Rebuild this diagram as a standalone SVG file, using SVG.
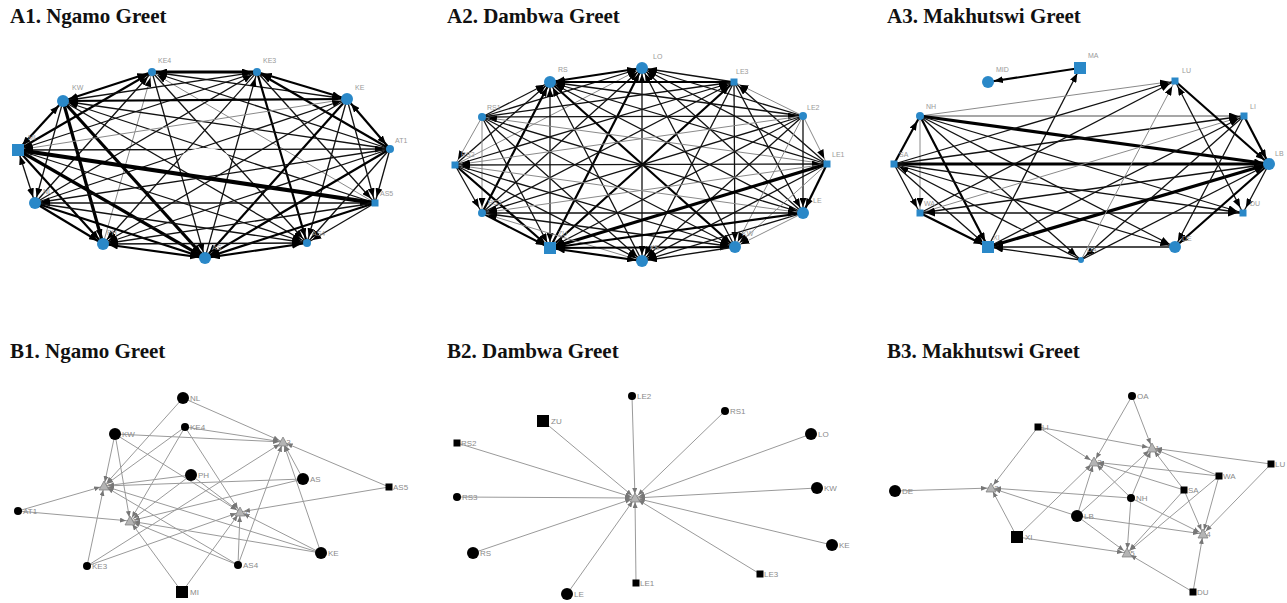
<svg xmlns="http://www.w3.org/2000/svg" width="1287" height="603" viewBox="0 0 1287 603">
<style>
.e1{stroke:#111;stroke-width:1.3}
.e2{stroke:#000;stroke-width:2.2}
.e3{stroke:#000;stroke-width:3.2}
.e4{stroke:#000;stroke-width:4.2}
.eg{stroke:#8a8a8a;stroke-width:1}
.A line{marker-end:url(#ah);fill:none}
.A line.b{marker-start:url(#ahs)}
.B line{stroke:#9a9a9a;stroke-width:1;marker-end:url(#bh)}
.nb{fill:#2a88c8}
.nk{fill:#000}
.tri{fill:#b4b4b4;stroke:#7a7a7a;stroke-width:.7}
.la{font-family:"Liberation Sans",Arial,sans-serif;font-size:7px;fill:#9a9a9a}
.lb{font-family:"Liberation Sans",Arial,sans-serif;font-size:8px;fill:#8a8a8a}
.t{font-family:"Liberation Serif","Times New Roman",serif;font-weight:bold;font-size:21px;fill:#111}
</style>
<defs>
<marker id="ah" markerUnits="userSpaceOnUse" markerWidth="9" markerHeight="7" viewBox="0 0 9 7" refX="15" refY="3.5" orient="auto"><path d="M0,0L9,3.5L0,7z" fill="#000"/></marker>
<marker id="ahs" markerUnits="userSpaceOnUse" markerWidth="9" markerHeight="7" viewBox="0 0 9 7" refX="15" refY="3.5" orient="auto-start-reverse"><path d="M0,0L9,3.5L0,7z" fill="#000"/></marker>
<marker id="bh" markerUnits="userSpaceOnUse" markerWidth="6" markerHeight="5" viewBox="0 0 6 5" refX="10" refY="2.5" orient="auto"><path d="M0,0L6,2.5L0,5z" fill="#777"/></marker>
<polygon id="tri" points="0,-5 5,4 -5,4"/>
</defs>
<rect width="1287" height="603" fill="#fff"/>

<g id="titles">
<text class="t" x="10" y="23">A1. Ngamo Greet</text>
<text class="t" x="447" y="23">A2. Dambwa Greet</text>
<text class="t" x="887" y="23">A3. Makhutswi Greet</text>
<text class="t" x="10" y="358">B1. Ngamo Greet</text>
<text class="t" x="447" y="358">B2. Dambwa Greet</text>
<text class="t" x="887" y="358">B3. Makhutswi Greet</text>
</g>

<!-- A1 connectors -->
<g id="a1-edges" class="A">
<line class="e3 b" x1="152" y1="72" x2="257" y2="72"/>
<line class="e2 b" x1="63" y1="101" x2="152" y2="72"/>
<line class="e1" x1="347" y1="99" x2="152" y2="72"/>
<line class="e2" x1="18" y1="150" x2="152" y2="72"/>
<line class="e1" x1="390" y1="149" x2="152" y2="72"/>
<line class="e1" x1="35" y1="203" x2="152" y2="72"/>
<line class="eg" x1="375" y1="203" x2="152" y2="72"/>
<line class="eg" x1="103" y1="244" x2="152" y2="72"/>
<line class="e1" x1="152" y1="72" x2="307" y2="243"/>
<line class="e1" x1="152" y1="72" x2="205" y2="258"/>
<line class="e1" x1="63" y1="101" x2="257" y2="72"/>
<line class="e2 b" x1="347" y1="99" x2="257" y2="72"/>
<line class="e1" x1="257" y1="72" x2="18" y2="150"/>
<line class="e2" x1="390" y1="149" x2="257" y2="72"/>
<line class="e1" x1="35" y1="203" x2="257" y2="72"/>
<line class="e1" x1="257" y1="72" x2="375" y2="203"/>
<line class="e1" x1="257" y1="72" x2="103" y2="244"/>
<line class="e2" x1="257" y1="72" x2="307" y2="243"/>
<line class="e1" x1="205" y1="258" x2="257" y2="72"/>
<line class="e2 b" x1="63" y1="101" x2="347" y2="99"/>
<line class="e2 b" x1="63" y1="101" x2="18" y2="150"/>
<line class="e1" x1="390" y1="149" x2="63" y2="101"/>
<line class="e1" x1="63" y1="101" x2="35" y2="203"/>
<line class="e1" x1="375" y1="203" x2="63" y2="101"/>
<line class="e3" x1="63" y1="101" x2="103" y2="244"/>
<line class="e1" x1="63" y1="101" x2="307" y2="243"/>
<line class="e3" x1="63" y1="101" x2="205" y2="258"/>
<line class="eg" x1="347" y1="99" x2="18" y2="150"/>
<line class="e2 b" x1="347" y1="99" x2="390" y2="149"/>
<line class="e1" x1="35" y1="203" x2="347" y2="99"/>
<line class="e1" x1="347" y1="99" x2="375" y2="203"/>
<line class="e1" x1="347" y1="99" x2="103" y2="244"/>
<line class="e1" x1="347" y1="99" x2="307" y2="243"/>
<line class="e2" x1="347" y1="99" x2="205" y2="258"/>
<line class="e1 b" x1="390" y1="149" x2="18" y2="150"/>
<line class="e1 b" x1="18" y1="150" x2="35" y2="203"/>
<line class="e4" x1="375" y1="203" x2="18" y2="150"/>
<line class="e2" x1="18" y1="150" x2="103" y2="244"/>
<line class="e1" x1="18" y1="150" x2="307" y2="243"/>
<line class="e3" x1="18" y1="150" x2="205" y2="258"/>
<line class="e1" x1="390" y1="149" x2="35" y2="203"/>
<line class="e1" x1="390" y1="149" x2="375" y2="203"/>
<line class="e1" x1="390" y1="149" x2="103" y2="244"/>
<line class="e1" x1="390" y1="149" x2="307" y2="243"/>
<line class="e2" x1="390" y1="149" x2="205" y2="258"/>
<line class="e1 b" x1="35" y1="203" x2="375" y2="203"/>
<line class="e2" x1="35" y1="203" x2="103" y2="244"/>
<line class="e1" x1="35" y1="203" x2="307" y2="243"/>
<line class="e2" x1="35" y1="203" x2="205" y2="258"/>
<line class="e1" x1="375" y1="203" x2="103" y2="244"/>
<line class="e1" x1="375" y1="203" x2="307" y2="243"/>
<line class="e2" x1="375" y1="203" x2="205" y2="258"/>
<line class="e1 b" x1="103" y1="244" x2="307" y2="243"/>
<line class="e2 b" x1="103" y1="244" x2="205" y2="258"/>
<line class="e2 b" x1="307" y1="243" x2="205" y2="258"/>
</g>
<ellipse id="a1-hole" cx="205" cy="160" rx="25" ry="12" fill="#fff"/>

<g id="a1-nodes">
<g id="a1-KE4"><circle class="nb" cx="152" cy="72" r="4"/><text class="la" x="158" y="63">KE4</text></g>
<g id="a1-KE3"><circle class="nb" cx="257" cy="72" r="4"/><text class="la" x="263" y="63">KE3</text></g>
<g id="a1-KW"><circle class="nb" cx="63" cy="101" r="6"/><text class="la" x="72" y="90">KW</text></g>
<g id="a1-KE"><circle class="nb" cx="347" cy="99" r="6"/><text class="la" x="355" y="90">KE</text></g>
<g id="a1-MI"><rect class="nb" x="12" y="144" width="12" height="12"/><text class="la" x="28" y="140">MI</text></g>
<g id="a1-AT1"><circle class="nb" cx="390" cy="149" r="4"/><text class="la" x="395" y="143">AT1</text></g>
<g id="a1-NL"><circle class="nb" cx="35" cy="203" r="6"/><text class="la" x="43" y="194">NL</text></g>
<g id="a1-AS5"><rect class="nb" x="371.5" y="199.5" width="7" height="7"/><text class="la" x="380" y="196">AS5</text></g>
<g id="a1-PH"><circle class="nb" cx="103" cy="244" r="6"/><text class="la" x="107" y="235">PH</text></g>
<g id="a1-AS4"><circle class="nb" cx="307" cy="243" r="4"/><text class="la" x="312" y="236">AS4</text></g>
<g id="a1-AS"><circle class="nb" cx="205" cy="258" r="6"/><text class="la" x="212" y="250">AS</text></g>
</g>

<!-- A2 connectors -->
<g id="a2-edges" class="A">
<line class="e2 b" x1="550" y1="82" x2="642" y2="68"/>
<line class="e1" x1="734" y1="82" x2="642" y2="68"/>
<line class="e1" x1="482" y1="117" x2="642" y2="68"/>
<line class="e1" x1="803" y1="116" x2="642" y2="68"/>
<line class="eg" x1="455" y1="165" x2="642" y2="68"/>
<line class="e1" x1="827" y1="164" x2="642" y2="68"/>
<line class="e1" x1="482" y1="213" x2="642" y2="68"/>
<line class="e1" x1="803" y1="213" x2="642" y2="68"/>
<line class="e2" x1="550" y1="248" x2="642" y2="68"/>
<line class="e1" x1="735" y1="247" x2="642" y2="68"/>
<line class="e1 b" x1="642" y1="261" x2="642" y2="68"/>
<line class="e2" x1="734" y1="82" x2="550" y2="82"/>
<line class="e1" x1="482" y1="117" x2="550" y2="82"/>
<line class="e1" x1="803" y1="116" x2="550" y2="82"/>
<line class="e1" x1="455" y1="165" x2="550" y2="82"/>
<line class="e1" x1="827" y1="164" x2="550" y2="82"/>
<line class="e2" x1="482" y1="213" x2="550" y2="82"/>
<line class="e1" x1="803" y1="213" x2="550" y2="82"/>
<line class="e1 b" x1="550" y1="248" x2="550" y2="82"/>
<line class="e2" x1="550" y1="82" x2="735" y2="247"/>
<line class="e1" x1="642" y1="261" x2="550" y2="82"/>
<line class="e1" x1="482" y1="117" x2="734" y2="82"/>
<line class="eg" x1="803" y1="116" x2="734" y2="82"/>
<line class="e1" x1="455" y1="165" x2="734" y2="82"/>
<line class="e1" x1="827" y1="164" x2="734" y2="82"/>
<line class="e1" x1="482" y1="213" x2="734" y2="82"/>
<line class="e1" x1="734" y1="82" x2="803" y2="213"/>
<line class="e2" x1="550" y1="248" x2="734" y2="82"/>
<line class="e1" x1="734" y1="82" x2="735" y2="247"/>
<line class="e1" x1="734" y1="82" x2="642" y2="261"/>
<line class="e1" x1="482" y1="117" x2="803" y2="116"/>
<line class="eg" x1="482" y1="117" x2="455" y2="165"/>
<line class="eg" x1="827" y1="164" x2="482" y2="117"/>
<line class="eg" x1="482" y1="117" x2="482" y2="213"/>
<line class="e1" x1="482" y1="117" x2="803" y2="213"/>
<line class="e1" x1="482" y1="117" x2="550" y2="248"/>
<line class="e1" x1="482" y1="117" x2="735" y2="247"/>
<line class="e1" x1="482" y1="117" x2="642" y2="261"/>
<line class="eg" x1="803" y1="116" x2="455" y2="165"/>
<line class="eg" x1="803" y1="116" x2="827" y2="164"/>
<line class="e1" x1="803" y1="116" x2="482" y2="213"/>
<line class="e1" x1="803" y1="116" x2="803" y2="213"/>
<line class="e1" x1="803" y1="116" x2="550" y2="248"/>
<line class="eg" x1="803" y1="116" x2="735" y2="247"/>
<line class="e1" x1="803" y1="116" x2="642" y2="261"/>
<line class="e1 b" x1="455" y1="165" x2="827" y2="164"/>
<line class="e1" x1="455" y1="165" x2="482" y2="213"/>
<line class="eg" x1="803" y1="213" x2="455" y2="165"/>
<line class="e2" x1="455" y1="165" x2="550" y2="248"/>
<line class="e1" x1="455" y1="165" x2="735" y2="247"/>
<line class="e1" x1="455" y1="165" x2="642" y2="261"/>
<line class="eg" x1="827" y1="164" x2="482" y2="213"/>
<line class="e2" x1="827" y1="164" x2="803" y2="213"/>
<line class="e3" x1="827" y1="164" x2="550" y2="248"/>
<line class="eg" x1="827" y1="164" x2="735" y2="247"/>
<line class="e1" x1="827" y1="164" x2="642" y2="261"/>
<line class="e1 b" x1="482" y1="213" x2="803" y2="213"/>
<line class="e2" x1="482" y1="213" x2="550" y2="248"/>
<line class="e1" x1="482" y1="213" x2="735" y2="247"/>
<line class="eg" x1="642" y1="261" x2="482" y2="213"/>
<line class="e2" x1="803" y1="213" x2="550" y2="248"/>
<line class="eg" x1="803" y1="213" x2="735" y2="247"/>
<line class="e1" x1="803" y1="213" x2="642" y2="261"/>
<line class="e2 b" x1="735" y1="247" x2="550" y2="248"/>
<line class="e2 b" x1="550" y1="248" x2="642" y2="261"/>
<line class="e1" x1="735" y1="247" x2="642" y2="261"/>
</g>

<g id="a2-nodes">
<g id="a2-LO"><circle class="nb" cx="642" cy="68" r="6"/><text class="la" x="653" y="59">LO</text></g>
<g id="a2-RS"><circle class="nb" cx="550" cy="82" r="6"/><text class="la" x="558" y="72">RS</text></g>
<g id="a2-LE3"><rect class="nb" x="730.5" y="78.5" width="7" height="7"/><text class="la" x="736" y="74">LE3</text></g>
<g id="a2-RS1"><circle class="nb" cx="482" cy="117" r="4"/><text class="la" x="487" y="110">RS1</text></g>
<g id="a2-LE2"><circle class="nb" cx="803" cy="116" r="4"/><text class="la" x="807" y="110">LE2</text></g>
<g id="a2-RS2"><rect class="nb" x="451.5" y="161.5" width="7" height="7"/><text class="la" x="461" y="157">RS2</text></g>
<g id="a2-LE1"><rect class="nb" x="823.5" y="160.5" width="7" height="7"/><text class="la" x="832" y="157">LE1</text></g>
<g id="a2-RS3"><circle class="nb" cx="482" cy="213" r="4"/><text class="la" x="488" y="205">RS3</text></g>
<g id="a2-LE"><circle class="nb" cx="803" cy="213" r="6"/><text class="la" x="813" y="203">LE</text></g>
<g id="a2-ZU"><rect class="nb" x="544" y="242" width="12" height="12"/><text class="la" x="558" y="236">ZU</text></g>
<g id="a2-KW"><circle class="nb" cx="735" cy="247" r="6"/><text class="la" x="742" y="236">KW</text></g>
<g id="a2-KE"><circle class="nb" cx="642" cy="261" r="6"/><text class="la" x="650" y="250">KE</text></g>
</g>

<!-- A3 connectors -->
<g id="a3-edges" class="A">
<line class="e2" x1="1080" y1="68" x2="988" y2="82"/>
<line class="e1" x1="988" y1="247" x2="1080" y2="68"/>
<line class="eg" x1="920" y1="116" x2="1175" y2="81"/>
<line class="eg" x1="920" y1="116" x2="1244" y2="116" style="stroke-width:1.6"/>
<line class="e3" x1="920" y1="116" x2="1269" y2="164"/>
<line class="e1" x1="920" y1="116" x2="1243" y2="213"/>
<line class="e1" x1="920" y1="116" x2="1175" y2="247"/>
<line class="e2" x1="920" y1="116" x2="988" y2="247"/>
<line class="eg" x1="920" y1="116" x2="920" y2="213"/>
<line class="e1" x1="920" y1="116" x2="1081" y2="260"/>
<line class="e2" x1="894" y1="164" x2="920" y2="116"/>
<line class="e3" x1="894" y1="164" x2="1269" y2="164"/>
<line class="e1" x1="894" y1="164" x2="1175" y2="81"/>
<line class="e1" x1="894" y1="164" x2="1244" y2="116"/>
<line class="e1" x1="894" y1="164" x2="988" y2="247"/>
<line class="e1" x1="894" y1="164" x2="920" y2="213"/>
<line class="e1" x1="894" y1="164" x2="1175" y2="247"/>
<line class="e1" x1="894" y1="164" x2="1243" y2="213"/>
<line class="e1" x1="920" y1="213" x2="1175" y2="81"/>
<line class="eg" x1="920" y1="213" x2="1244" y2="116"/>
<line class="e1 b" x1="920" y1="213" x2="1243" y2="213"/>
<line class="e2" x1="920" y1="213" x2="988" y2="247"/>
<line class="e1" x1="1269" y1="164" x2="920" y2="213"/>
<line class="e3 b" x1="1269" y1="164" x2="988" y2="247"/>
<line class="e1" x1="988" y1="247" x2="1244" y2="116"/>
<line class="e1" x1="1175" y1="247" x2="988" y2="247"/>
<line class="eg" x1="1081" y1="260" x2="1175" y2="81"/>
<line class="e1" x1="1081" y1="260" x2="1269" y2="164"/>
<line class="e1" x1="1244" y1="116" x2="1081" y2="260"/>
<line class="e1" x1="1081" y1="260" x2="894" y2="164"/>
<line class="e1" x1="1081" y1="260" x2="988" y2="247"/>
<line class="e2" x1="1244" y1="116" x2="1269" y2="164"/>
<line class="e2" x1="1175" y1="81" x2="1269" y2="164"/>
<line class="e1 b" x1="1175" y1="81" x2="1243" y2="213"/>
<line class="e1" x1="1244" y1="116" x2="1175" y2="247"/>
<line class="e2" x1="1269" y1="164" x2="1175" y2="247"/>
<line class="e1" x1="1269" y1="164" x2="1243" y2="213"/>
</g>

<g id="a3-nodes">
<g id="a3-MA"><rect class="nb" x="1074" y="62" width="12" height="12"/><text class="la" x="1088" y="58">MA</text></g>
<g id="a3-MID"><circle class="nb" cx="988" cy="82" r="6"/><text class="la" x="996" y="72">MID</text></g>
<g id="a3-LU"><rect class="nb" x="1171.5" y="77.5" width="7" height="7"/><text class="la" x="1182" y="73">LU</text></g>
<g id="a3-LI"><rect class="nb" x="1240.5" y="112.5" width="7" height="7"/><text class="la" x="1250" y="109">LI</text></g>
<g id="a3-NH"><circle class="nb" cx="920" cy="116" r="4"/><text class="la" x="926" y="109">NH</text></g>
<g id="a3-SA"><rect class="nb" x="890.5" y="160.5" width="7" height="7"/><text class="la" x="899" y="157">SA</text></g>
<g id="a3-LB"><circle class="nb" cx="1269" cy="164" r="6"/><text class="la" x="1275" y="156">LB</text></g>
<g id="a3-WA"><rect class="nb" x="916.5" y="209.5" width="7" height="7"/><text class="la" x="924" y="206">WA</text></g>
<g id="a3-DU"><rect class="nb" x="1239.5" y="209.5" width="7" height="7"/><text class="la" x="1250" y="206">DU</text></g>
<g id="a3-XI"><rect class="nb" x="982" y="241" width="12" height="12"/><text class="la" x="993" y="240">XI</text></g>
<g id="a3-DE"><circle class="nb" cx="1175" cy="247" r="6"/><text class="la" x="1182" y="241">DE</text></g>
<g id="a3-DA"><circle class="nb" cx="1081" cy="260" r="3"/><text class="la" x="1087" y="252">DA</text></g>
</g>

<!-- B1 connectors -->
<g id="b1-edges" class="B">
<line x1="183" y1="398" x2="283" y2="442"/>
<line x1="183" y1="398" x2="104" y2="486"/>
<line x1="185" y1="427" x2="283" y2="442"/>
<line x1="185" y1="427" x2="104" y2="486"/>
<line x1="185" y1="427" x2="240" y2="512"/>
<line x1="185" y1="427" x2="130" y2="521"/>
<line x1="115" y1="434" x2="283" y2="442"/>
<line x1="115" y1="434" x2="104" y2="486"/>
<line x1="115" y1="434" x2="130" y2="521"/>
<line x1="115" y1="434" x2="240" y2="512"/>
<line x1="191" y1="475" x2="104" y2="486"/>
<line x1="191" y1="475" x2="240" y2="512"/>
<line x1="191" y1="475" x2="130" y2="521"/>
<line x1="303" y1="479" x2="104" y2="486"/>
<line x1="303" y1="479" x2="283" y2="442"/>
<line x1="303" y1="479" x2="130" y2="521"/>
<line x1="389" y1="487" x2="283" y2="442"/>
<line x1="389" y1="487" x2="240" y2="512"/>
<line x1="18" y1="511" x2="104" y2="486"/>
<line x1="18" y1="511" x2="130" y2="521"/>
<line x1="321" y1="553" x2="283" y2="442"/>
<line x1="321" y1="553" x2="104" y2="486"/>
<line x1="321" y1="553" x2="130" y2="521"/>
<line x1="321" y1="553" x2="240" y2="512"/>
<line x1="87" y1="566" x2="104" y2="486"/>
<line x1="87" y1="566" x2="283" y2="442"/>
<line x1="87" y1="566" x2="240" y2="512"/>
<line x1="238" y1="565" x2="283" y2="442"/>
<line x1="238" y1="565" x2="240" y2="512"/>
<line x1="238" y1="565" x2="130" y2="521"/>
<line x1="238" y1="565" x2="104" y2="486"/>
<line x1="182" y1="592" x2="130" y2="521"/>
<line x1="182" y1="592" x2="240" y2="512"/>
</g>

<g id="b1-nodes">
<g id="b1-NL"><circle class="nk" cx="183" cy="398" r="6"/><text class="lb" x="190" y="401">NL</text></g>
<g id="b1-KE4"><circle class="nk" cx="185" cy="427" r="4"/><text class="lb" x="190" y="430">KE4</text></g>
<g id="b1-KW"><circle class="nk" cx="115" cy="434" r="6"/><text class="lb" x="122" y="437">KW</text></g>
<g id="b1-A3"><text class="lb" x="281" y="445">A3</text><use href="#tri" class="tri" x="283" y="442"/></g>
<g id="b1-PH"><circle class="nk" cx="191" cy="475" r="6"/><text class="lb" x="198" y="478">PH</text></g>
<g id="b1-AS"><circle class="nk" cx="303" cy="479" r="6"/><text class="lb" x="310" y="482">AS</text></g>
<g id="b1-A2"><text class="lb" x="102" y="489">A2</text><use href="#tri" class="tri" x="104" y="486"/></g>
<g id="b1-AS5"><rect class="nk" x="385.5" y="483.5" width="7" height="7"/><text class="lb" x="393" y="490">AS5</text></g>
<g id="b1-AT1"><circle class="nk" cx="18" cy="511" r="4"/><text class="lb" x="23" y="514">AT1</text></g>
<g id="b1-A4"><text class="lb" x="238" y="515">A4</text><use href="#tri" class="tri" x="240" y="512"/></g>
<g id="b1-A1"><text class="lb" x="128" y="524">A1</text><use href="#tri" class="tri" x="130" y="521"/></g>
<g id="b1-KE"><circle class="nk" cx="321" cy="553" r="6"/><text class="lb" x="328" y="556">KE</text></g>
<g id="b1-KE3"><circle class="nk" cx="87" cy="566" r="4"/><text class="lb" x="92" y="569">KE3</text></g>
<g id="b1-AS4"><circle class="nk" cx="238" cy="565" r="4"/><text class="lb" x="243" y="568">AS4</text></g>
<g id="b1-MI"><rect class="nk" x="176" y="586" width="12" height="12"/><text class="lb" x="190" y="595">MI</text></g>
</g>

<!-- B2 connectors -->
<g id="b2-edges" class="B">
<line x1="632" y1="396" x2="635" y2="498"/>
<line x1="725" y1="411" x2="635" y2="498"/>
<line x1="543" y1="421" x2="635" y2="498"/>
<line x1="811" y1="434" x2="635" y2="498"/>
<line x1="457" y1="443" x2="635" y2="498"/>
<line x1="457" y1="497" x2="635" y2="498"/>
<line x1="817" y1="488" x2="635" y2="498"/>
<line x1="473" y1="553" x2="635" y2="498"/>
<line x1="832" y1="545" x2="635" y2="498"/>
<line x1="760" y1="574" x2="635" y2="498"/>
<line x1="636" y1="583" x2="635" y2="498"/>
<line x1="567" y1="594" x2="635" y2="498"/>
</g>

<g id="b2-nodes">
<g id="b2-A1"><text class="lb" x="633" y="501">A1</text><use href="#tri" class="tri" x="635" y="498"/></g>
<g id="b2-LE2"><circle class="nk" cx="632" cy="396" r="4"/><text class="lb" x="637" y="399">LE2</text></g>
<g id="b2-RS1"><circle class="nk" cx="725" cy="411" r="4"/><text class="lb" x="730" y="414">RS1</text></g>
<g id="b2-ZU"><rect class="nk" x="537" y="415" width="12" height="12"/><text class="lb" x="551" y="424">ZU</text></g>
<g id="b2-LO"><circle class="nk" cx="811" cy="434" r="6"/><text class="lb" x="818" y="437">LO</text></g>
<g id="b2-RS2"><rect class="nk" x="453.5" y="439.5" width="7" height="7"/><text class="lb" x="461" y="446">RS2</text></g>
<g id="b2-RS3"><circle class="nk" cx="457" cy="497" r="4"/><text class="lb" x="462" y="500">RS3</text></g>
<g id="b2-KW"><circle class="nk" cx="817" cy="488" r="6"/><text class="lb" x="824" y="491">KW</text></g>
<g id="b2-RS"><circle class="nk" cx="473" cy="553" r="6"/><text class="lb" x="480" y="556">RS</text></g>
<g id="b2-KE"><circle class="nk" cx="832" cy="545" r="6"/><text class="lb" x="839" y="548">KE</text></g>
<g id="b2-LE3"><rect class="nk" x="756.5" y="570.5" width="7" height="7"/><text class="lb" x="764" y="577">LE3</text></g>
<g id="b2-LE1"><rect class="nk" x="632.5" y="579.5" width="7" height="7"/><text class="lb" x="640" y="586">LE1</text></g>
<g id="b2-LE"><circle class="nk" cx="567" cy="594" r="6"/><text class="lb" x="574" y="597">LE</text></g>
</g>

<!-- B3 connectors -->
<g id="b3-edges" class="B">
<line x1="1132" y1="396" x2="1094" y2="462"/>
<line x1="1132" y1="396" x2="1152" y2="448"/>
<line x1="1038" y1="427" x2="1152" y2="448"/>
<line x1="1038" y1="427" x2="1094" y2="462"/>
<line x1="1038" y1="427" x2="991" y2="488"/>
<line x1="895" y1="491" x2="991" y2="488"/>
<line x1="1219" y1="476" x2="1094" y2="462"/>
<line x1="1184" y1="490" x2="1094" y2="462"/>
<line x1="1131" y1="498" x2="1094" y2="462"/>
<line x1="1017" y1="537" x2="1094" y2="462"/>
<line x1="1077" y1="516" x2="1094" y2="462"/>
<line x1="1271" y1="464" x2="1152" y2="448"/>
<line x1="1219" y1="476" x2="1152" y2="448"/>
<line x1="1184" y1="490" x2="1152" y2="448"/>
<line x1="1131" y1="498" x2="1152" y2="448"/>
<line x1="1077" y1="516" x2="1152" y2="448"/>
<line x1="1131" y1="498" x2="991" y2="488"/>
<line x1="1077" y1="516" x2="991" y2="488"/>
<line x1="1017" y1="537" x2="991" y2="488"/>
<line x1="1219" y1="476" x2="1203" y2="534"/>
<line x1="1219" y1="476" x2="1127" y2="553"/>
<line x1="1184" y1="490" x2="1203" y2="534"/>
<line x1="1184" y1="490" x2="1127" y2="553"/>
<line x1="1131" y1="498" x2="1127" y2="553"/>
<line x1="1131" y1="498" x2="1203" y2="534"/>
<line x1="1077" y1="516" x2="1203" y2="534"/>
<line x1="1077" y1="516" x2="1127" y2="553"/>
<line x1="1017" y1="537" x2="1127" y2="553"/>
<line x1="1271" y1="464" x2="1203" y2="534"/>
<line x1="1193" y1="592" x2="1203" y2="534"/>
<line x1="1193" y1="592" x2="1127" y2="553"/>
</g>

<g id="b3-nodes">
<g id="b3-OA"><circle class="nk" cx="1132" cy="396" r="4"/><text class="lb" x="1137" y="399">OA</text></g>
<g id="b3-LI"><rect class="nk" x="1034.5" y="423.5" width="7" height="7"/><text class="lb" x="1042" y="430">LI</text></g>
<g id="b3-A1"><text class="lb" x="1150" y="451">A1</text><use href="#tri" class="tri" x="1152" y="448"/></g>
<g id="b3-A2"><text class="lb" x="1092" y="465">A2</text><use href="#tri" class="tri" x="1094" y="462"/></g>
<g id="b3-LU"><rect class="nk" x="1267.5" y="460.5" width="7" height="7"/><text class="lb" x="1275" y="467">LU</text></g>
<g id="b3-WA"><rect class="nk" x="1215.5" y="472.5" width="7" height="7"/><text class="lb" x="1223" y="479">WA</text></g>
<g id="b3-A3"><text class="lb" x="989" y="491">A3</text><use href="#tri" class="tri" x="991" y="488"/></g>
<g id="b3-DE"><circle class="nk" cx="895" cy="491" r="6"/><text class="lb" x="902" y="494">DE</text></g>
<g id="b3-SA"><rect class="nk" x="1180.5" y="486.5" width="7" height="7"/><text class="lb" x="1188" y="493">SA</text></g>
<g id="b3-NH"><circle class="nk" cx="1131" cy="498" r="4"/><text class="lb" x="1136" y="501">NH</text></g>
<g id="b3-LB"><circle class="nk" cx="1077" cy="516" r="6"/><text class="lb" x="1084" y="519">LB</text></g>
<g id="b3-A4"><text class="lb" x="1201" y="537">A4</text><use href="#tri" class="tri" x="1203" y="534"/></g>
<g id="b3-XI"><rect class="nk" x="1011" y="531" width="12" height="12"/><text class="lb" x="1025" y="540">XI</text></g>
<g id="b3-A5"><text class="lb" x="1125" y="556">A5</text><use href="#tri" class="tri" x="1127" y="553"/></g>
<g id="b3-DU"><rect class="nk" x="1189.5" y="588.5" width="7" height="7"/><text class="lb" x="1197" y="595">DU</text></g>
</g>
</svg>
